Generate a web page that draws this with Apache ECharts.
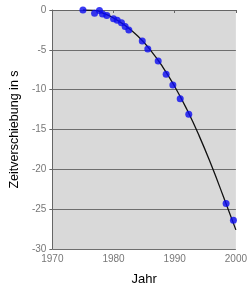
<!DOCTYPE html>
<html>
<head>
<meta charset="utf-8">
<script src="https://cdn.jsdelivr.net/npm/echarts@6/dist/echarts.min.js"></script>
<style>
html,body{margin:0;padding:0;background:#fff;}
#chart{width:250px;height:291px;}
</style>
</head>
<body>
<div id="chart"></div>
<script>
// Messpunkte (Jahr, Zeitverschiebung in s)
var pointYears = [1975, 1976.9, 1977.7, 1978.2, 1978.9, 1980, 1980.6, 1981.3, 1981.9, 1982.5,
	1984.7, 1985.6, 1987.3, 1988.6, 1989.7, 1990.9, 1992.3, 1998.4, 1999.6];
var pointValues = [0, -0.4, -0.05, -0.5, -0.7, -1.1, -1.3, -1.6, -2.07, -2.5,
	-3.9, -4.9, -6.4, -8.05, -9.4, -11.15, -13.1, -24.3, -26.4];
// Ausgleichskurve
var curveYears = [1975, 1977, 1978, 1980, 1982, 1984, 1986, 1988, 1990, 1992, 1994, 1996, 1998, 2000];
var curveValues = [0, -0.05, -0.3, -1.0, -2.0, -3.3, -5.0, -7.1, -9.6, -12.5, -15.8, -19.5, -23.5, -27.6];
var yTicks = [0, -5, -10, -15, -20, -25, -30];

var chart = echarts.init(document.getElementById('chart'));
var points = pointYears.map(function (y, i) { return [y, pointValues[i]]; });
var curve = curveYears.map(function (y, i) { return [y, curveValues[i]]; });

var option = {
	animation: false,
	grid: {
		left: 40, right: 12, top: 10, bottom: 39,
		show: true, backgroundColor: '#d9d9d9', borderWidth: 0
	},
	xAxis: {
		type: 'value', min: 1970, max: 2000, interval: 10,
		name: 'Jahr', nameLocation: 'middle', nameGap: 24,
		nameTextStyle: {color: '#000', fontSize: 13, fontFamily: 'Liberation Sans'},
		axisLine: {show: true, lineStyle: {color: '#666', width: 1}},
		axisTick: {show: true, length: 3, lineStyle: {color: '#666'}},
		axisLabel: {color: '#777', fontSize: 10, margin: 5, fontFamily: 'Liberation Sans',
			formatter: function (v) { return String(v); }},
		splitLine: {show: false}
	},
	yAxis: {
		type: 'value', min: -30, max: 0, interval: 5,
		name: 'Zeitverschiebung in s', nameLocation: 'middle', nameGap: 30,
		nameTextStyle: {color: '#000', fontSize: 12.5, fontFamily: 'Liberation Sans'},
		axisLine: {show: true, lineStyle: {color: '#666', width: 1}},
		axisTick: {show: true, length: 3, lineStyle: {color: '#666'}},
		axisLabel: {color: '#777', fontSize: 10, margin: 6, fontFamily: 'Liberation Sans',
			formatter: function (v) { return yTicks.indexOf(v) >= 0 ? String(v) : ''; }},
		splitLine: {show: true, lineStyle: {color: '#6e6e6e', width: 1}}
	},
	series: [
		{
			type: 'line', data: curve, smooth: true, showSymbol: false,
			lineStyle: {color: '#111', width: 1.3}, z: 2
		},
		{
			type: 'scatter', data: points, symbolSize: 7,
			itemStyle: {color: '#0a0af0'}, z: 3
		}
	]
};
chart.setOption(option);
</script>
</body>
</html>
